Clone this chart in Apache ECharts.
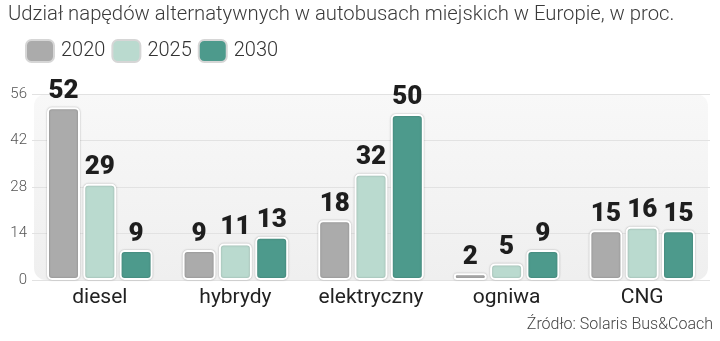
<!DOCTYPE html>
<html>
<head>
<meta charset="utf-8">
<script src="https://cdn.jsdelivr.net/npm/echarts@6/dist/echarts.min.js"></script>
<style>
  html, body { margin: 0; padding: 0; background: #ffffff; }
  #chart { width: 720px; height: 341px; }
</style>
</head>
<body>
<div id="chart"></div>
<script>
// Udział napędów w autobusach miejskich (%)
const categories = ['diesel', 'hybrydy', 'elektryczny', 'ogniwa', 'CNG'];
const years = ['2020', '2025', '2030'];
const values2020 = [52, 9, 18, 2, 15];
const values2025 = [29, 11, 32, 5, 16];
const values2030 = [9, 13, 50, 9, 15];
const yTicks = [0, 14, 28, 42, 56];

const colors = ['#ababab', '#badacf', '#4d9a8c'];
const seriesValues = [values2020, values2025, values2030];

const chart = echarts.init(document.getElementById('chart'));

const labelFont = 'Roboto, "DejaVu Sans", sans-serif';
const textFont = 'Roboto, "Noto Sans", sans-serif';

const option = {
  animation: false,
  title: [
    {
      text: 'Udział napędów alternatywnych w autobusach miejskich w Europie, w proc.',
      left: 3, top: 0,
      textStyle: { fontFamily: textFont, fontWeight: 300, fontSize: 20.3, color: '#3a3a3a' }
    },
    {
      text: 'Źródło: Solaris Bus&Coach',
      right: 2, bottom: 3,
      textStyle: { fontFamily: textFont, fontWeight: 300, fontSize: 16, color: '#444' }
    }
  ],
  legend: {
    left: 25, top: 39, padding: 0,
    itemWidth: 28, itemHeight: 22, itemGap: 6,
    icon: 'roundRect',
    itemStyle: { borderColor: '#d6d6d6', borderWidth: 2 },
    textStyle: { fontFamily: textFont, fontWeight: 300, fontSize: 20, color: '#333', padding: [0, 0, 0, 2] },
    data: years
  },
  grid: { left: 32, right: 10, top: 94, bottom: 61, containLabel: false },
  xAxis: {
    type: 'category',
    data: categories,
    axisLine: { show: false },
    axisTick: { show: false },
    axisLabel: { interval: 0, fontFamily: textFont, fontSize: 21, color: '#222', margin: 7 }
  },
  yAxis: {
    type: 'value',
    min: yTicks[0], max: yTicks[yTicks.length - 1], interval: 14,
    axisLine: { show: false },
    axisTick: { show: false },
    splitLine: { show: true, lineStyle: { color: '#e2e2e2', width: 1 } },
    axisLabel: {
      fontFamily: textFont, fontWeight: 300, fontSize: 15, color: '#555',
      margin: 5, align: 'right',
      formatter: v => (v === 0 || v === 56) ? '' : String(v)
    }
  },
  series: years.map((y, i) => ({
    name: y,
    type: 'bar',
    data: seriesValues[i],
    barWidth: 33,
    barGap: '10%',
    itemStyle: {
      color: colors[i],
      borderColor: '#ffffff',
      borderWidth: 2,
      borderRadius: 4,
      shadowColor: 'rgba(0,0,0,0.25)',
      shadowBlur: 2
    },
    label: {
      show: true,
      position: 'top',
      distance: 3,
      fontFamily: labelFont,
      fontWeight: 900,
      fontSize: 26,
      color: '#1e1e1e'
    },
    z: 3
  }))
};

chart.setOption(option);

// rounded background panel behind the plot, plus 0 and 56 tick labels beside it
const tl = chart.convertToPixel({ xAxisIndex: 0, yAxisIndex: 0 }, [0, 56]);
const br = chart.convertToPixel({ xAxisIndex: 0, yAxisIndex: 0 }, [4, 0]);
const left = 34, right = 708;
chart.setOption({
  graphic: [
    {
      type: 'rect', z: -1, silent: true,
      shape: { x: left, y: tl[1], width: right - left, height: br[1] - tl[1], r: 12 },
      style: {
        fill: new echarts.graphic.LinearGradient(0, 0, 0, 1, [
          { offset: 0, color: '#f8f8f8' },
          { offset: 1, color: '#efefef' }
        ])
      }
    },
    {
      type: 'text', silent: true,
      x: 27, y: tl[1],
      style: { text: '56', align: 'right', verticalAlign: 'middle', font: '300 15px Roboto, "Noto Sans", sans-serif', fill: '#555' }
    },
    {
      type: 'text', silent: true,
      x: 27, y: br[1],
      style: { text: '0', align: 'right', verticalAlign: 'middle', font: '300 15px Roboto, "Noto Sans", sans-serif', fill: '#555' }
    }
  ]
});
</script>
</body>
</html>
